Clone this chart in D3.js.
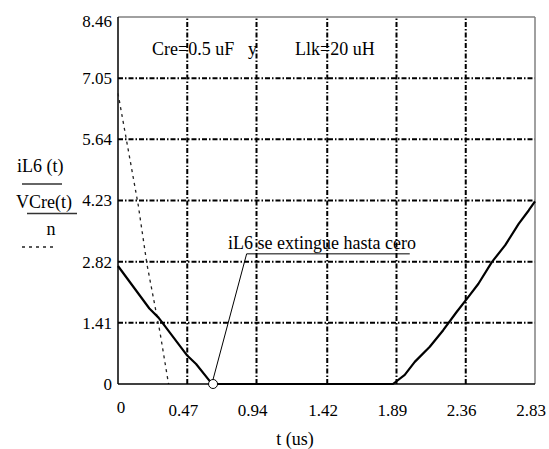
<html>
<head>
<style>
  body { margin: 0; background: #fff; }
</style>
</head>
<body>
<script src="https://d3js.org/d3.v7.min.js"></script>
<script>
var width = 549;
var height = 449;

// tick values (grid lines)
var xTicks = [0, 0.47, 0.94, 1.42, 1.89, 2.36, 2.83];
var yTicks = [0, 1.41, 2.82, 4.23, 5.64, 7.05, 8.46];

// iL6(t), solid trace
var iL6T = [0, 0.213, 0.275, 0.466, 0.53, 0.627, 0.645, 1.866, 1.946, 2.014, 2.116, 2.207, 2.298, 2.378, 2.446, 2.537, 2.628, 2.719, 2.787, 2.83];
var iL6V = [2.72, 1.74, 1.53, 0.67, 0.46, 0.05, 0, 0, 0.21, 0.51, 0.86, 1.24, 1.66, 2.01, 2.31, 2.81, 3.20, 3.69, 4.00, 4.21];

// VCre(t)/n, dotted trace
var vcT = [0, 0.138, 0.196, 0.286, 0.343];
var vcV = [6.7, 4.11, 2.77, 1.17, 0];

// annotated point where iL6 reaches zero
var zeroPoint = {t: 0.645, v: 0};

var svg = d3.select('body').append('svg')
    .attr('width', width)
    .attr('height', height);

var x = d3.scaleLinear().domain([0, 2.83]).range([118, 535]);
var y = d3.scaleLinear().domain([0, 8.46]).range([384, 17]);

function label(sel, size) {
    return sel.style('font-family', '"Liberation Serif"')
        .style('font-size', (size || 18) + 'px')
        .attr('fill', '#000');
}

// grid
var grid = svg.append('g').attr('class', 'grid');
grid.selectAll('.vgrid')
    .data(xTicks.slice(1, -1))
    .enter().append('line')
    .attr('x1', d => x(d)).attr('x2', d => x(d))
    .attr('y1', y(0)).attr('y2', y(8.46))
    .attr('stroke', '#000')
    .attr('stroke-width', 2)
    .attr('stroke-dasharray', '5,2,1.5,2');
grid.selectAll('.hgrid')
    .data(yTicks.slice(1, -1))
    .enter().append('line')
    .attr('x1', x(0)).attr('x2', x(2.83))
    .attr('y1', d => y(d)).attr('y2', d => y(d))
    .attr('stroke', '#000')
    .attr('stroke-width', 2)
    .attr('stroke-dasharray', '5,2,1.5,2');

// frame: top/right grey, left/bottom black
svg.append('line')
    .attr('x1', x(0)).attr('x2', x(2.83)).attr('y1', y(8.46)).attr('y2', y(8.46))
    .attr('stroke', '#808080').attr('stroke-width', 1.5);
svg.append('line')
    .attr('x1', x(2.83)).attr('x2', x(2.83)).attr('y1', y(8.46)).attr('y2', y(0))
    .attr('stroke', '#808080').attr('stroke-width', 1.5);
svg.append('line')
    .attr('x1', x(0)).attr('x2', x(0)).attr('y1', y(8.46)).attr('y2', y(0))
    .attr('stroke', '#000').attr('stroke-width', 1.5);

// dotted VCre/n
var vcData = vcT.map((t, i) => ({t: t, v: vcV[i]}));
var line = d3.line().x(d => x(d.t)).y(d => y(d.v));
svg.append('path')
    .datum(vcData)
    .attr('fill', 'none')
    .attr('stroke', '#222')
    .attr('stroke-width', 1.3)
    .attr('stroke-dasharray', '3,4')
    .attr('d', line);

// bottom axis line
svg.append('line')
    .attr('x1', x(0)).attr('x2', x(2.83)).attr('y1', y(0)).attr('y2', y(0))
    .attr('stroke', '#000').attr('stroke-width', 1.5);

// solid iL6
var iData = iL6T.map((t, i) => ({t: t, v: iL6V[i]}));
svg.append('path')
    .datum(iData)
    .attr('fill', 'none')
    .attr('stroke', '#000')
    .attr('stroke-width', 2.2)
    .attr('stroke-linejoin', 'round')
    .attr('d', line);

// annotation
var annT = 0.873, annV = 3.0, annEnd = 1.98;
svg.append('line')
    .attr('x1', x(zeroPoint.t)).attr('y1', y(zeroPoint.v) - 4.5)
    .attr('x2', x(annT)).attr('y2', y(annV))
    .attr('stroke', '#000').attr('stroke-width', 1);
svg.append('line')
    .attr('x1', x(annT)).attr('y1', y(annV))
    .attr('x2', x(annEnd)).attr('y2', y(annV))
    .attr('stroke', '#000').attr('stroke-width', 1);
svg.append('text')
    .attr('x', x(0.747)).attr('y', y(annV) - 5)
    .call(label)
    .text('iL6 se extingue hasta cero');
svg.append('circle')
    .attr('cx', x(zeroPoint.t)).attr('cy', y(zeroPoint.v))
    .attr('r', 4.5)
    .attr('fill', '#fff').attr('stroke', '#000').attr('stroke-width', 1);

// tick labels
svg.selectAll('.ylab')
    .data(yTicks)
    .enter().append('text')
    .attr('x', 112)
    .attr('y', d => Math.max(y(d), 21))
    .attr('dy', '0.35em')
    .attr('text-anchor', 'end')
    .call(label, 17)
    .text(d => d === 0 ? '0' : d.toFixed(2));
svg.selectAll('.xlab')
    .data(xTicks)
    .enter().append('text')
    .attr('x', d => d === 0 ? x(d) + 3 : x(d) - 4)
    .attr('y', d => d === 0 ? 413 : 416)
    .attr('text-anchor', 'middle')
    .call(label, 17)
    .text(d => d === 0 ? '0' : d.toFixed(2));

// axis title
svg.append('text')
    .attr('x', 295).attr('y', 445)
    .attr('text-anchor', 'middle')
    .call(label)
    .text('t (us)');

// top note
svg.append('text').attr('x', 152).attr('y', 55).call(label).text('Cre=0.5 uF');
svg.append('text').attr('x', 248).attr('y', 55).call(label).text('y');
svg.append('text').attr('x', 295).attr('y', 55).call(label).text('Llk=20 uH');

// left legend / y label
var leg = svg.append('g');
leg.append('text').attr('x', 17).attr('y', 172).call(label).text('iL6 (t)');
leg.append('line').attr('x1', 22).attr('x2', 62).attr('y1', 184).attr('y2', 184)
    .attr('stroke', '#333').attr('stroke-width', 1.5);
leg.append('text').attr('x', 16).attr('y', 208).call(label).text('VCre(t)');
leg.append('line').attr('x1', 27).attr('x2', 77).attr('y1', 213.5).attr('y2', 213.5)
    .attr('stroke', '#333').attr('stroke-width', 1.5);
leg.append('text').attr('x', 51).attr('y', 235).attr('text-anchor', 'middle').call(label).text('n');
leg.append('line').attr('x1', 22).attr('x2', 57).attr('y1', 247).attr('y2', 247)
    .attr('stroke', '#222').attr('stroke-width', 1.3).attr('stroke-dasharray', '3,4');
</script>
</body>
</html>
